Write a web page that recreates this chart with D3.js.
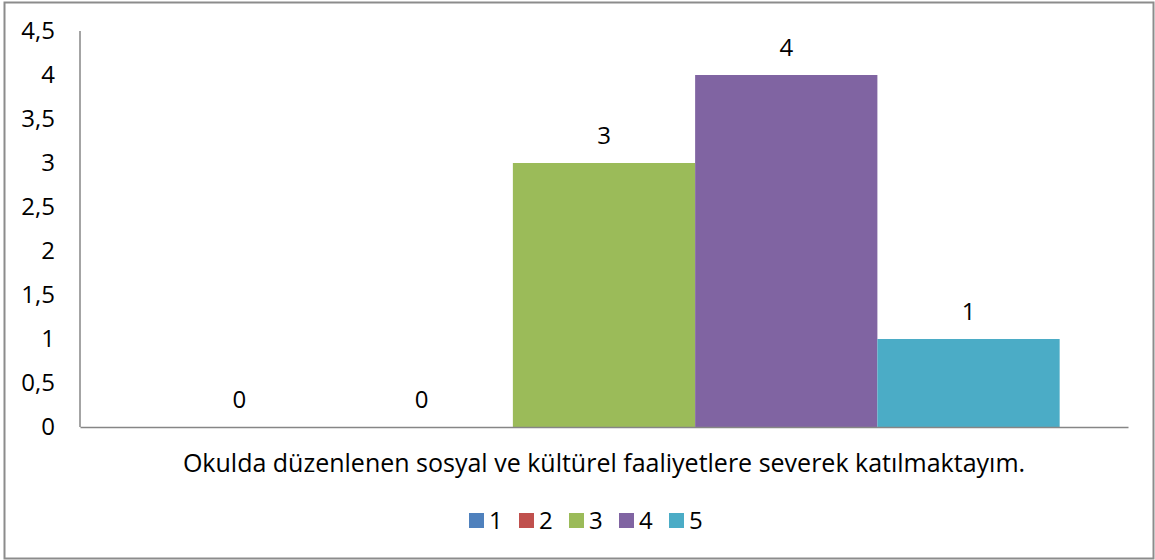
<!DOCTYPE html>
<html>
<head>
<meta charset="utf-8">
<script src="https://cdn.jsdelivr.net/npm/d3@7/dist/d3.min.js"></script>
<style>
  html, body { margin: 0; padding: 0; background: #fff; }
  svg { display: block; font-family: "Open Sans", "Noto Sans", sans-serif; }
</style>
</head>
<body>
<svg id="chart" width="1155" height="560"></svg>
<script>
// Survey item and answer counts per response option (1–5)
const categories = ["Okulda düzenlenen sosyal ve kültürel faaliyetlere severek katılmaktayım."];
const seriesNames = ["1", "2", "3", "4", "5"];
const seriesValues = [0, 0, 3, 4, 1];
const seriesColors = ["#4F81BD", "#C0504D", "#9BBB59", "#8064A2", "#4BACC6"];
const yTicks = [0, 0.5, 1, 1.5, 2, 2.5, 3, 3.5, 4, 4.5];

const svg = d3.select("#chart");
const W = 1155, H = 560;
const plot = { left: 80, right: 1128, top: 31, bottom: 427 };
const axisColor = "#868686";
const numSize = 24, labelSize = 25;

// Outer frame
svg.append("rect")
  .attr("x", 4.5).attr("y", 2.5)
  .attr("width", W - 6).attr("height", H - 4)
  .attr("fill", "none").attr("stroke", "#8c8c8c").attr("stroke-width", 2);

const y = d3.scaleLinear().domain([0, 4.5]).range([plot.bottom, plot.top]);
const x0 = d3.scaleBand().domain(categories).range([plot.left, plot.right])
  .paddingInner(0).paddingOuter(0.075);
const x1 = d3.scaleBand().domain(seriesNames).range([0, x0.bandwidth()]).padding(0);

const fmt = v => String(v).replace(".", ",");

// Y axis labels
const yAxis = d3.axisLeft(y).tickValues(yTicks).tickFormat(fmt).tickSize(0).tickPadding(25);
const gy = svg.append("g").attr("transform", `translate(${plot.left},0)`).call(yAxis);
gy.select(".domain").remove();
gy.attr("font-size", numSize).attr("font-family", "'Open Sans', sans-serif");
gy.selectAll("text").attr("fill", "#000");

// Bars
const data = seriesNames.map((s, i) => ({ cat: categories[0], name: s, value: seriesValues[i], color: seriesColors[i] }));
const g = svg.append("g");
g.selectAll("rect.bar").data(data).enter().append("rect")
  .attr("class", "bar")
  .attr("x", d => x0(d.cat) + x1(d.name))
  .attr("y", d => y(d.value))
  .attr("width", x1.bandwidth())
  .attr("height", d => y(0) - y(d.value))
  .attr("fill", d => d.color);

// Value labels
g.selectAll("text.val").data(data).enter().append("text")
  .attr("class", "val")
  .attr("x", d => x0(d.cat) + x1(d.name) + x1.bandwidth() / 2)
  .attr("y", d => y(d.value) - 19)
  .attr("text-anchor", "middle")
  .attr("font-size", numSize)
  .attr("fill", "#000")
  .text(d => d.value);

// Axis lines
svg.append("line")
  .attr("x1", plot.left).attr("x2", plot.left)
  .attr("y1", plot.top).attr("y2", plot.bottom)
  .attr("stroke", axisColor).attr("stroke-width", 1.5);
const xAxis = d3.axisBottom(x0).tickSize(0).tickPadding(27);
const gx = svg.append("g").attr("transform", `translate(0,${plot.bottom})`).call(xAxis);
gx.select(".domain").attr("stroke", axisColor).attr("stroke-width", 1.5);
gx.attr("font-size", labelSize).attr("font-family", "'Open Sans', sans-serif");
gx.selectAll("text").attr("fill", "#000");

// Legend
const legend = svg.append("g").attr("transform", "translate(469,513)");
const item = legend.selectAll("g").data(data).enter().append("g")
  .attr("transform", (d, i) => `translate(${i * 50},0)`);
item.append("rect").attr("width", 15).attr("height", 15).attr("fill", d => d.color);
item.append("text").attr("x", 20).attr("y", 16)
  .attr("font-size", numSize).attr("fill", "#000").text(d => d.name);
</script>
</body>
</html>
